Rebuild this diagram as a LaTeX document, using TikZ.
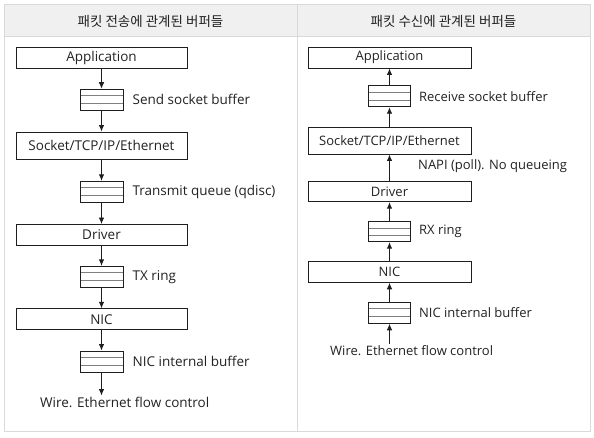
\documentclass[tikz,border=0pt]{standalone}
\usepackage{fontspec}
\setmainfont{Open Sans}
\newfontfamily\krfont{Noto Sans CJK KR}
\usetikzlibrary{arrows.meta,positioning}
\definecolor{gridgray}{HTML}{D9D9D9}
\definecolor{headgray}{HTML}{F0F0F0}
\definecolor{inkgray}{HTML}{1E1E1E}
\definecolor{textgray}{HTML}{222222}
\tikzset{
  layerbox/.style={draw=inkgray,line width=0.9pt,minimum width=#1,minimum height=21pt,inner sep=0pt,text=textgray},
  bufbox/.style={draw=inkgray,line width=0.9pt,minimum width=43pt,minimum height=21pt,inner sep=0pt,
    path picture={\draw[gray,line width=0.8pt]
      ([yshift=-6.5pt]path picture bounding box.north west) -- ([yshift=-6.5pt]path picture bounding box.north east)
      ([yshift=6.6pt]path picture bounding box.south west) -- ([yshift=6.6pt]path picture bounding box.south east);}},
  note/.style={inner sep=1pt,text=textgray},
  flow/.style={draw=inkgray,line width=0.9pt,-{Latex[length=6.5pt,width=5.5pt]}}
}
\begin{document}
\begin{tikzpicture}[x=1pt,y=-1pt]
            \useasboundingbox (0,0) rectangle (594,438);
            % Table frame
            \fill[headgray](4,5)rectangle(590,37);
            \draw[gridgray,line width=1pt](4,5)rectangle(590,431);
            \draw[gridgray,line width=1pt](4,37)--(590,37);
            \draw[gridgray,line width=1pt](297,5)--(297,431);
            \node[note,font=\krfont\fontsize{13.5}{15}\selectfont](headL)at(150.5,21){패킷 전송에 관계된 버퍼들};
            \node[note,font=\krfont\fontsize{13.5}{15}\selectfont](headR)at(443.5,21){패킷 수신에 관계된 버퍼들};
            % Transmit side
            \begin{scope}[font=\fontsize{13.5}{15}\selectfont]
            \node[layerbox=171pt](appL)at(101.5,57.5){Application};
            \node[bufbox](sbufL)at(101.5,99.7){};
            \node[note,right=8pt of sbufL](sbufLt){Send socket buffer};
            \node[layerbox=171pt,minimum height=27pt](sockL)at(101.5,145.5){Socket/TCP/IP/Ethernet};
            \node[bufbox](tqL)at(101.5,191.8){};
            \node[note,right=8pt of tqL](tqLt){Transmit queue (qdisc)};
            \node[layerbox=171pt](drvL)at(101.5,235){Driver};
            \node[bufbox](txL)at(101.5,276.8){};
            \node[note,right=8pt of txL](txLt){TX ring};
            \node[layerbox=171pt](nicL)at(101.5,319.3){NIC};
            \node[bufbox](nbufL)at(101.5,361.5){};
            \node[note,right=8pt of nbufL](nbufLt){NIC internal buffer};
            \node[note,anchor=west](wireL)at(39,402){Wire. Ethernet flow control};
            \coordinate(wireLtop)at(nbufL.south|-wireL.north);
            \end{scope}
            \draw[flow](appL)--(sbufL);
            \draw[flow](sbufL)--(sockL);
            \draw[flow](sockL)--(tqL);
            \draw[flow](tqL)--(drvL);
            \draw[flow](drvL)--(txL);
            \draw[flow](txL)--(nicL);
            \draw[flow](nicL)--(nbufL);
            \draw[flow](nbufL)--(wireLtop);
            % Receive side
            \begin{scope}[font=\fontsize{13}{15}\selectfont]
            \node[layerbox=163pt](appR)at(389.5,57.5){Application};
            \node[bufbox,minimum width=42pt](rbufR)at(389.5,96.3){};
            \node[note,right=7pt of rbufR](rbufRt){Receive socket buffer};
            \node[layerbox=163pt,minimum height=26.7pt](sockR)at(389.5,140.7){Socket/TCP/IP/Ethernet};
            \node[note,anchor=west](napiR)at(417,166){NAPI (poll). No queueing};
            \node[layerbox=163pt,minimum height=20pt](drvR)at(389.5,191.7){Driver};
            \node[bufbox,minimum width=42pt,minimum height=20pt](rxR)at(389.5,231.7){};
            \node[note,right=7pt of rxR](rxRt){RX ring};
            \node[layerbox=163pt,minimum height=20.6pt](nicR)at(389.5,272){NIC};
            \node[bufbox,minimum width=42pt](nbufR)at(389.5,312.8){};
            \node[note,right=7pt of nbufR](nbufRt){NIC internal buffer};
            \node[note,anchor=west](wireR)at(329,350.5){Wire. Ethernet flow control};
            \coordinate(wireRtop)at(nbufR.south|-wireR.north);
            \end{scope}
            \draw[flow](wireRtop)--(nbufR);
            \draw[flow](nbufR)--(nicR);
            \draw[flow](nicR)--(rxR);
            \draw[flow](rxR)--(drvR);
            \draw[flow](drvR)--(sockR);
            \draw[flow](sockR)--(rbufR);
            \draw[flow](rbufR)--(appR);
\end{tikzpicture}
\end{document}
